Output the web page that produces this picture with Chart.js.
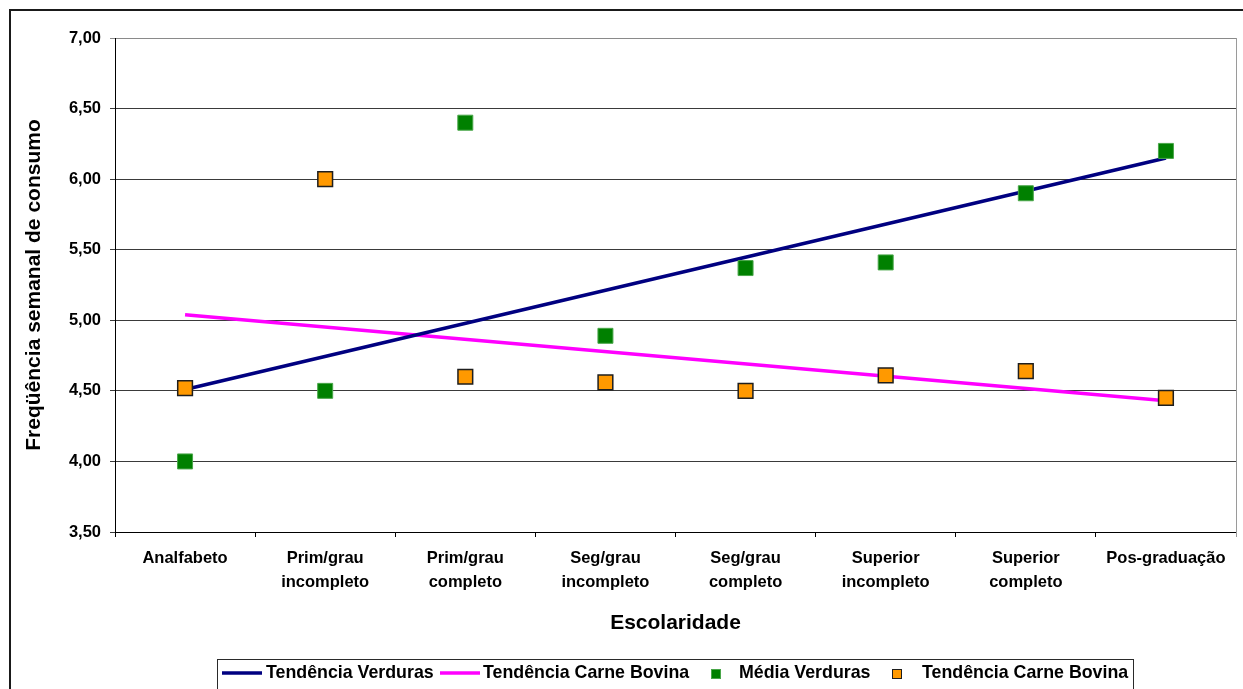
<!DOCTYPE html>
<html>
<head>
<meta charset="utf-8">
<script src="https://cdn.jsdelivr.net/npm/chart.js@4.4.0/dist/chart.umd.min.js"></script>
<style>
  html, body { margin: 0; padding: 0; background: #fff; overflow: hidden; }
  #wrap { position: relative; width: 1243px; height: 689px; }
</style>
</head>
<body>
<div id="wrap"><canvas id="c" width="1243" height="689"></canvas></div>
<script>
// Escolaridade categories (multi-line tick labels)
const categories = [
  'Analfabeto',
  ['Prim/grau', 'incompleto'],
  ['Prim/grau', 'completo'],
  ['Seg/grau', 'incompleto'],
  ['Seg/grau', 'completo'],
  ['Superior', 'incompleto'],
  ['Superior', 'completo'],
  'Pos-graduação'
];

// Weekly consumption frequency per schooling level
const mediaVerduras = [4.00, 4.50, 6.40, 4.89, 5.37, 5.41, 5.90, 6.20];
const carneBovina   = [4.52, 6.00, 4.60, 4.56, 4.50, 4.61, 4.64, 4.45];

// Linear trend lines: only the two end values are given, joined by spanGaps
const tendenciaVerduras = [4.51, null, null, null, null, null, null, 6.15];
const tendenciaCarne    = [5.04, null, null, null, null, null, null, 4.43];

// Value axis range
const yMin = 3.5;
const yMax = 7.0;
const yStep = 0.5;

const FONT = '"Liberation Sans", Arial, sans-serif';

const seriesNames = ['Tendência Verduras', 'Tendência Carne Bovina', 'Média Verduras', 'Tendência Carne Bovina'];

// White background, outer frame and plot-area right border
const framePlugin = {
  id: 'frame',
  beforeDraw(chart) {
    const ctx = chart.ctx;
    ctx.save();
    ctx.fillStyle = '#ffffff';
    ctx.fillRect(0, 0, chart.width, chart.height);
    ctx.restore();
  },
  afterDraw(chart) {
    const ctx = chart.ctx;
    const a = chart.chartArea;
    ctx.save();
    // right edge of the plot area
    ctx.strokeStyle = '#9a9a9a';
    ctx.lineWidth = 1;
    ctx.beginPath();
    ctx.moveTo(Math.round(a.right) + 0.5, a.top);
    ctx.lineTo(Math.round(a.right) + 0.5, a.bottom + 5);
    ctx.stroke();
    // outer chart frame
    ctx.strokeStyle = '#1a1a1a';
    ctx.lineWidth = 2;
    ctx.beginPath();
    ctx.moveTo(10, chart.height + 2);
    ctx.lineTo(10, 10);
    ctx.lineTo(chart.width + 2, 10);
    ctx.stroke();
    ctx.restore();
  }
};

// Boxed legend along the bottom edge
const boxLegendPlugin = {
  id: 'boxLegend',
  afterDraw(chart) {
    const ctx = chart.ctx;
    const ds = chart.data.datasets;
    const cy = 673;
    ctx.save();
    ctx.strokeStyle = '#2a2a2a';
    ctx.lineWidth = 1;
    ctx.strokeRect(217.5, 659.5, 916, 40);

    ctx.font = 'bold 17.8px ' + FONT;
    ctx.fillStyle = '#000';
    ctx.textBaseline = 'middle';
    ctx.textAlign = 'left';

    const layout = [
      { kind: 'line', x0: 222, x1: 262, tx: 266 },
      { kind: 'line', x0: 440, x1: 480, tx: 483 },
      { kind: 'box',  cx: 716, tx: 739 },
      { kind: 'box',  cx: 897, tx: 922 }
    ];
    layout.forEach((it, i) => {
      const d = ds[i];
      if (it.kind === 'line') {
        ctx.strokeStyle = d.borderColor;
        ctx.lineWidth = 3.5;
        ctx.beginPath();
        ctx.moveTo(it.x0, cy);
        ctx.lineTo(it.x1, cy);
        ctx.stroke();
      } else {
        ctx.fillStyle = d.backgroundColor;
        ctx.fillRect(it.cx - 5, cy - 4, 10, 10);
        ctx.strokeStyle = d.borderColor;
        ctx.lineWidth = 1;
        ctx.strokeRect(it.cx - 4.5, cy - 3.5, 9, 9);
      }
      ctx.fillStyle = '#000';
      ctx.fillText(d.label, it.tx, cy);
    });
    ctx.restore();
  }
};

new Chart(document.getElementById('c'), {
  type: 'line',
  data: {
    labels: categories,
    datasets: [
      {
        label: seriesNames[0],
        data: tendenciaVerduras,
        borderColor: '#000080',
        backgroundColor: '#000080',
        borderWidth: 3.5,
        pointRadius: 0,
        spanGaps: true,
        order: 2
      },
      {
        label: seriesNames[1],
        data: tendenciaCarne,
        borderColor: '#ff00ff',
        backgroundColor: '#ff00ff',
        borderWidth: 3.5,
        pointRadius: 0,
        spanGaps: true,
        order: 3
      },
      {
        label: seriesNames[2],
        data: mediaVerduras,
        showLine: false,
        pointStyle: 'rect',
        pointRadius: 10.6,
        pointHoverRadius: 10.6,
        backgroundColor: '#008000',
        borderColor: '#49a649',
        pointBorderWidth: 1,
        order: 1
      },
      {
        label: seriesNames[3],
        data: carneBovina,
        showLine: false,
        pointStyle: 'rect',
        pointRadius: 10.4,
        pointHoverRadius: 10.4,
        backgroundColor: '#ff9900',
        borderColor: '#1e1e1e',
        pointBorderWidth: 1.5,
        order: 0
      }
    ]
  },
  options: {
    responsive: false,
    animation: false,
    devicePixelRatio: 1,
    layout: { autoPadding: false, padding: { left: 10, top: 38, right: 7, bottom: 47 } },
    plugins: {
      legend: { display: false },
      tooltip: { enabled: false }
    },
    scales: {
      x: {
        type: 'category',
        offset: true,
        afterFit(scale) {
          scale.height = 110;
          scale.paddingLeft = 0;
          scale.paddingRight = 0;
        },
        grid: {
          offset: true,
          drawOnChartArea: false,
          drawTicks: true,
          tickLength: 5,
          color: '#000'
        },
        border: { color: '#000', width: 1 },
        ticks: {
          color: '#000',
          padding: 10,
          maxRotation: 0,
          autoSkip: false,
          font: { family: FONT, size: 16.5, weight: 'bold', lineHeight: 1.42 }
        },
        title: {
          display: true,
          text: 'Escolaridade',
          color: '#000',
          font: { family: FONT, size: 21, weight: 'bold', lineHeight: 1.2 },
          padding: { top: 0, bottom: 6 }
        }
      },
      y: {
        min: yMin,
        max: yMax,
        afterFit(scale) {
          scale.width = 105;
          scale.paddingTop = 0;
          scale.paddingBottom = 0;
        },
        grid: {
          color: (c) => (c.tick && c.tick.value === yMax ? '#8a8a8a' : '#3a3a3a'),
          tickLength: 5,
          drawTicks: true
        },
        border: { color: '#000', width: 1 },
        ticks: {
          stepSize: yStep,
          color: '#000',
          padding: 9,
          font: { family: FONT, size: 16.5, weight: 'bold' },
          callback: (v) => Number(v).toFixed(2).replace('.', ',')
        },
        title: {
          display: true,
          text: 'Freqüência semanal de consumo',
          color: '#000',
          font: { family: FONT, size: 21, weight: 'bold', lineHeight: 1.2 },
          padding: { top: 12, bottom: 0 }
        }
      }
    }
  },
  plugins: [framePlugin, boxLegendPlugin]
});
</script>
</body>
</html>
